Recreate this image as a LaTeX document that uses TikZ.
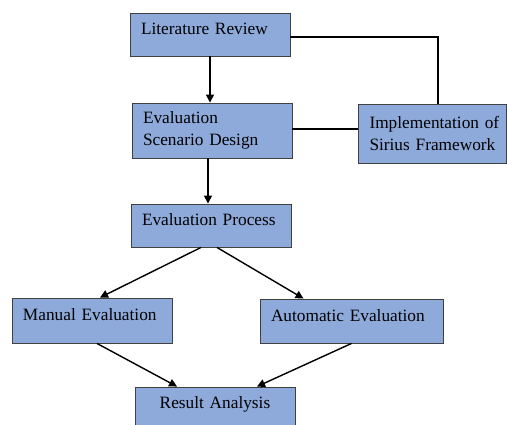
\documentclass[tikz,border=0pt]{standalone}
\usepackage{fontspec}
\setmainfont{Liberation Serif}
\usetikzlibrary{arrows.meta, positioning, calc}
\definecolor{boxblue}{HTML}{8EAADB}
\definecolor{edge}{HTML}{404040}
\definecolor{ink}{HTML}{000000}
\tikzset{
  stage/.style    = {rectangle, draw=edge, line width=0.9pt, fill=boxblue,
                      font=\fontsize{17.3}{22}\selectfont, text=ink, align=left,
                      inner xsep=11pt, inner ysep=0pt},
  single/.style   = {stage, text height=12pt, text depth=11pt},
  flow/.style     = {-{Triangle[length=8pt, width=8pt]}, line width=1.4pt, draw=ink},
  link/.style     = {line width=1.4pt, draw=ink},
}

\begin{document}
\begin{tikzpicture}[x=1pt, y=-1pt]
  \useasboundingbox (0,0) rectangle (507,425);

  % boxes
  \node[single, text width=138pt, minimum height=43pt] (lit) at (210,34.5) {Literature Review};
  \node[stage, text width=138pt, minimum height=55pt] (esd) at (212,130.5) {Evaluation\\Scenario Design};
  \node[stage, text width=126pt, minimum height=59pt] (impl) at (432.5,133.5)
    {\mbox{Implementation of}\\\mbox{Sirius Framework}};
  \node[single, text width=138pt, minimum height=43pt] (ep) at (211,225.5) {Evaluation Process};
  \node[single, text width=138pt, minimum height=45pt] (man) at (92,320.5) {Manual Evaluation};
  \node[single, text width=161pt, minimum height=44pt] (auto) at (351.5,321) {Automatic Evaluation};
  \node[single, text width=138pt, minimum height=42pt, align=center] (res) at (215,408) {Result Analysis};

  % connectors
  \draw[flow] (lit.south) -- (lit.south |- esd.north);
  \draw[flow] ([xshift=-4pt]esd.south) -- ([xshift=-4pt]esd.south |- ep.north);
  \draw[link] ([yshift=-2.5pt]lit.east) -| ([xshift=5.5pt]impl.north);
  \draw[link] ([yshift=1.5pt]esd.east) -- ([yshift=1.5pt]esd.east -| impl.west);
  \draw[flow] ([xshift=-10pt]ep.south) -- ([xshift=8pt]man.north);
  \draw[flow] ([xshift=6pt]ep.south) -- ([xshift=-48pt]auto.north);
  \draw[flow] ([xshift=5pt]man.south) -- ([xshift=-38pt]res.north);
  \draw[flow] (auto.south) -- ([xshift=42pt]res.north);
\end{tikzpicture}
\end{document}
